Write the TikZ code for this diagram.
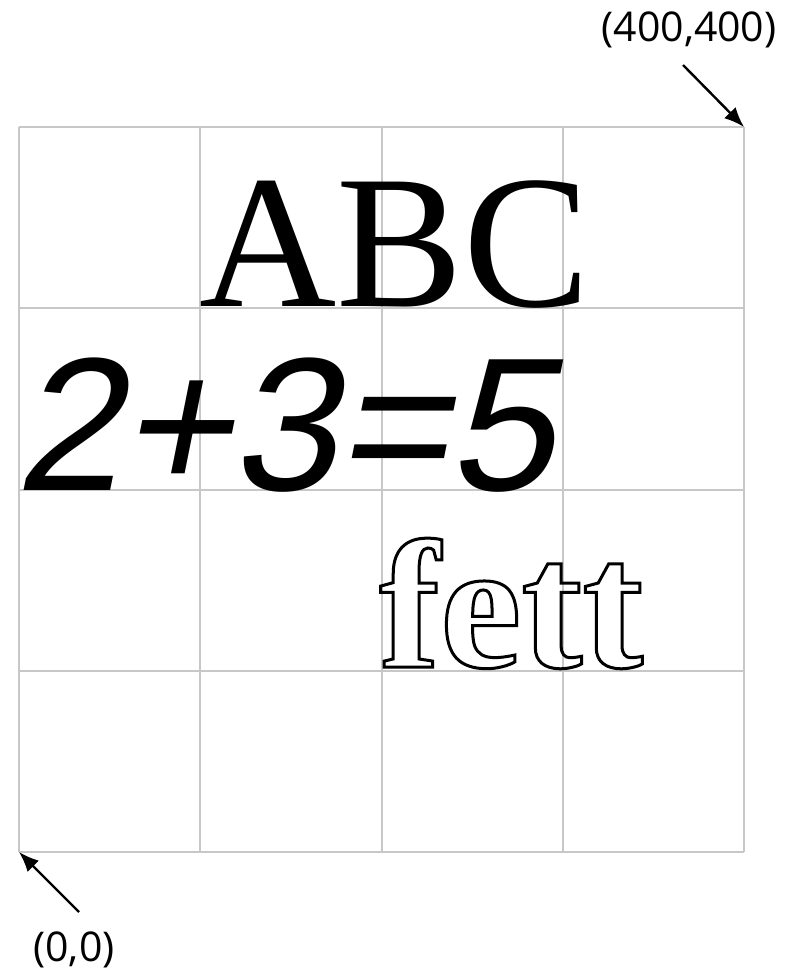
\documentclass[tikz,border=0pt]{standalone}
\usepackage{fontspec}
\setmainfont{Liberation Serif}[BoldFont={Liberation Serif Bold}]
\newfontfamily\helvit{Liberation Sans}[FakeSlant=0.2]
\newfontfamily\lblfont{Open Sans}
\usetikzlibrary{arrows.meta}
\tikzset{
  gridline/.style={draw=black!22, line width=2pt},
  txt/.style={inner sep=0pt, anchor=base west},
  lbl/.style={inner sep=0pt, font=\lblfont\fontsize{41}{44}\selectfont},
  ptr/.style={line width=2.4pt, -{Latex[length=20pt,width=16pt]}}
}
\begin{document}
\begin{tikzpicture}[x=1pt,y=-1pt]
\useasboundingbox (0,0) rectangle (798,973);
% grid
\foreach \i in {0,...,4} {
  \draw[gridline] ({19+181.25*\i},127) -- ({19+181.25*\i},852);
  \draw[gridline] (19,{127+181.25*\i}) -- (744,{127+181.25*\i});
}
\coordinate (tr) at (744,127);
\coordinate (bl) at (19,852);
\node[txt, font=\fontsize{190}{200}\selectfont] (abc) at (199,306) {ABC};
\node[txt, font=\helvit\fontsize{190}{200}\selectfont] (eq) at (14,490) {2+3=5};
\node[txt, font=\bfseries\fontsize{183}{190}\selectfont] (fett) at (379,667)
  {\special{pdf:code 1 Tr 3 w}fett\special{pdf:code 0 Tr 1 w}};
\node[lbl] (l1) at (689,30) {(400,400)};
\node[lbl] (l0) at (74,950) {(0,0)};
\coordinate (s1) at (683,65);
\coordinate (s0) at (79,912);
\draw[ptr] (s1) -- (tr);
\draw[ptr] (s0) -- (bl);
\end{tikzpicture}
\end{document}
